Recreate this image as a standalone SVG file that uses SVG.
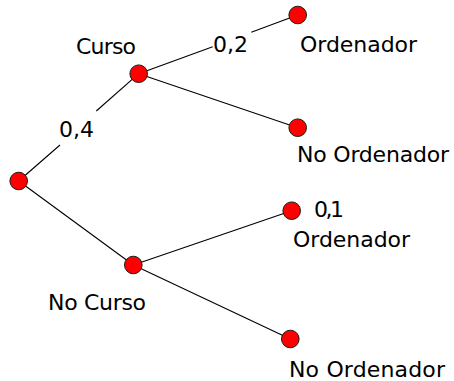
<svg xmlns="http://www.w3.org/2000/svg" width="454" height="381" viewBox="0 0 454 381">
<style>
.e{stroke:#000;stroke-width:1.1;fill:none}
.n{fill:#ff0000;stroke:#1a1a1a;stroke-width:1}
text{font-family:"DejaVu Sans","Liberation Sans",sans-serif;font-size:22px;fill:#000}
</style>
<rect width="454" height="381" fill="#fff"/>
<g id="connectors">
<line class="e" x1="18.7" y1="181" x2="60" y2="145"/>
<line class="e" x1="96.3" y1="111" x2="138.7" y2="73.7"/>
<line class="e" x1="138.7" y1="73.7" x2="212.7" y2="46.7"/>
<line class="e" x1="251.3" y1="32.3" x2="297.7" y2="15"/>
<line class="e" x1="138.7" y1="73.7" x2="297.7" y2="127.7"/>
<line class="e" x1="18.7" y1="181" x2="133.3" y2="265"/>
<line class="e" x1="133.3" y1="265" x2="291.7" y2="210.7"/>
<line class="e" x1="133.3" y1="265" x2="290.3" y2="339"/>
</g>
<g id="root"><circle class="n" cx="18.7" cy="181" r="8.8"/></g>
<g id="curso"><circle class="n" cx="138.7" cy="73.7" r="8.8"/><text x="76" y="54" textLength="60">Curso</text></g>
<g id="curso-ordenador"><circle class="n" cx="297.7" cy="15" r="8.8"/><text x="300" y="52" textLength="117">Ordenador</text></g>
<g id="curso-no-ordenador"><circle class="n" cx="297.7" cy="127.7" r="8.8"/><text x="297" y="162" textLength="152">No Ordenador</text></g>
<g id="no-curso"><circle class="n" cx="133.3" cy="265" r="8.8"/><text x="48" y="310" textLength="98">No Curso</text></g>
<g id="nocurso-ordenador"><circle class="n" cx="291.7" cy="210.7" r="8.8"/><text x="314" y="217" textLength="30">0,1</text><text x="293" y="247" textLength="117">Ordenador</text></g>
<g id="nocurso-no-ordenador"><circle class="n" cx="290.3" cy="339" r="8.8"/><text x="289" y="377" textLength="156">No Ordenador</text></g>
<g id="labels"><text x="59" y="137" textLength="35">0,4</text><text x="213" y="52" textLength="35">0,2</text></g>
</svg>
